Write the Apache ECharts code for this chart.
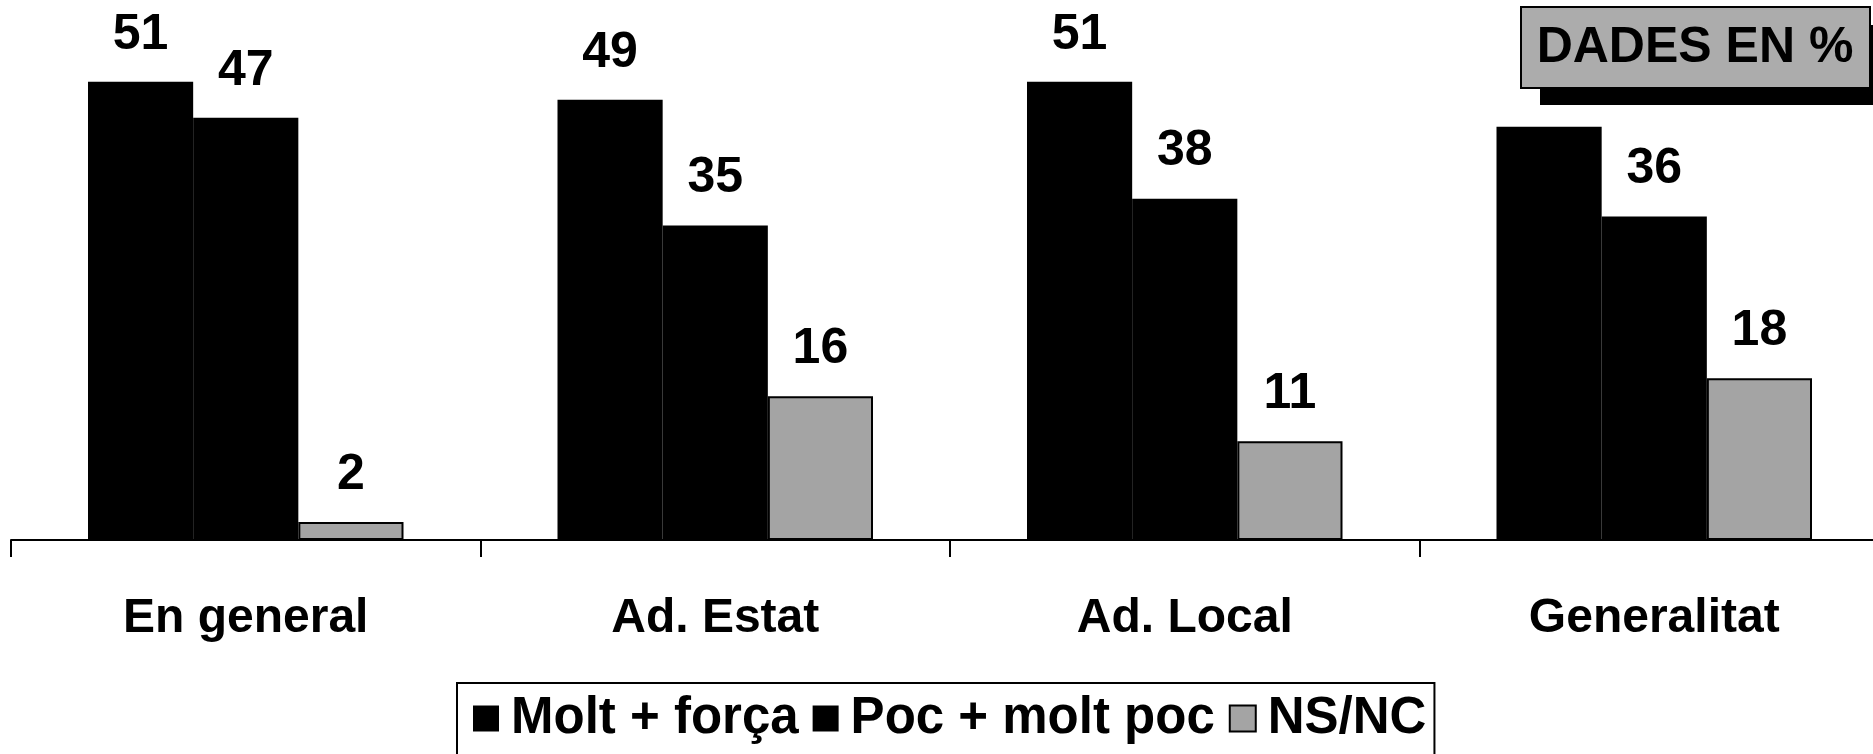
<!DOCTYPE html>
<html>
<head>
<meta charset="utf-8">
<script src="https://cdn.jsdelivr.net/npm/echarts@6/dist/echarts.min.js"></script>
<style>
    html, body { margin: 0; padding: 0; background: #fff; }
    #chart { width: 1873px; height: 754px; }
</style>
</head>
<body>
<div id="chart"></div>
<script>
    var categories = ['En general', 'Ad. Estat', 'Ad. Local', 'Generalitat'];
    var seriesNames = ['Molt + força', 'Poc + molt poc', 'NS/NC'];
    var moltForca = [51, 49, 51, 46];
    var pocMoltPoc = [47, 35, 38, 36];
    var nsnc = [2, 16, 11, 18];
    // the Generalitat label for "Molt + força" is hidden behind the note box
    var hiddenLabel = [false, false, false, true];

    var font = '"Liberation Sans", Arial, sans-serif';
    var chart = echarts.init(document.getElementById('chart'));

    function withLabels(values, hidden) {
        return values.map(function (v, i) {
            return hidden && hidden[i] ? { value: v, label: { show: false } } : v;
        });
    }

    var valueLabel = {
        show: true,
        position: 'top',
        distance: 22,
        color: '#000',
        fontFamily: font,
        fontWeight: 'bold',
        fontSize: 50
    };

    var option = {
        animation: false,
        backgroundColor: '#fff',
        textStyle: { fontFamily: font },
        grid: { left: 11, top: 1, width: 1878, height: 539, outerBoundsMode: 'none' },
        legend: {
            left: 457,
            top: 683,
            icon: 'rect',
            itemWidth: 26,
            itemHeight: 26,
            itemGap: 14,
            padding: [10, 8, 30, 16],
            borderColor: '#000',
            borderWidth: 2,
            data: seriesNames,
            textStyle: {
                color: '#000',
                fontFamily: font,
                fontWeight: 'bold',
                fontSize: 51,
                padding: [0, 0, 0, 7]
            }
        },
        xAxis: {
            type: 'category',
            data: categories,
            axisLine: { lineStyle: { color: '#000', width: 2 } },
            axisTick: { show: true, length: 17, lineStyle: { color: '#000', width: 2 } },
            axisLabel: {
                color: '#000',
                fontFamily: font,
                fontWeight: 'bold',
                fontSize: 48,
                margin: 55
            }
        },
        yAxis: {
            type: 'value',
            min: 0,
            max: 60,
            show: false,
            splitLine: { show: false }
        },
        series: [
            {
                name: seriesNames[0],
                type: 'bar',
                barGap: 0,
                barCategoryGap: '32.8%',
                itemStyle: { color: '#000' },
                label: valueLabel,
                data: withLabels(moltForca, hiddenLabel)
            },
            {
                name: seriesNames[1],
                type: 'bar',
                itemStyle: { color: '#000' },
                label: valueLabel,
                data: pocMoltPoc
            },
            {
                name: seriesNames[2],
                type: 'bar',
                itemStyle: { color: '#a4a4a4', borderColor: '#000', borderWidth: 2 },
                label: valueLabel,
                data: nsnc
            }
        ],
        graphic: [
            {
                type: 'rect',
                z: 100,
                shape: { x: 1540, y: 25, width: 360, height: 80 },
                style: { fill: '#000' }
            },
            {
                type: 'rect',
                z: 101,
                shape: { x: 1521, y: 7, width: 349, height: 81 },
                style: { fill: '#acacac', stroke: '#000', lineWidth: 2 }
            },
            {
                type: 'text',
                z: 102,
                x: 1695,
                y: 48,
                style: {
                    text: 'DADES EN %',
                    fill: '#000',
                    font: 'bold 50px ' + font,
                    align: 'center',
                    verticalAlign: 'middle'
                }
            }
        ]
    };

    option && chart.setOption(option);
</script>
</body>
</html>
